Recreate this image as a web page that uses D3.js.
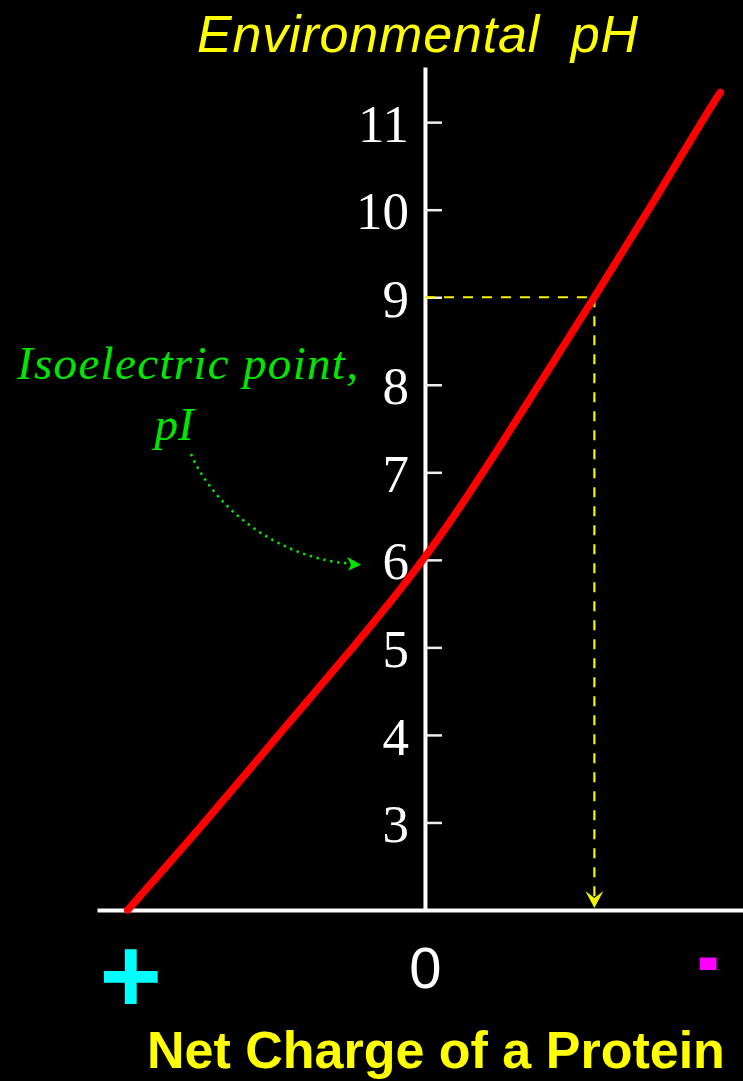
<!DOCTYPE html>
<html>
<head>
<meta charset="utf-8">
<script src="https://cdn.jsdelivr.net/npm/d3@7"></script>
<style>
  body { margin: 0; background: #000; }
  svg { display: block; }
</style>
</head>
<body>
<svg width="743" height="1081"></svg>
<script>
// Titration curve: pH against the net charge of a protein
var phValues     = [2, 3, 4, 5, 6, 7, 8, 9, 10, 11, 11.34];
var chargeValues = [3.0, 2.22, 1.48, 0.72, 0, -0.59, -1.15, -1.71, -2.26, -2.79, -2.98];
var phTicks      = [3, 4, 5, 6, 7, 8, 9, 10, 11];
var chargeTicks  = [0];
var isoelectricPH = 6;
var examplePH     = 9;

var svg = d3.select("svg");
var width = +svg.attr("width");
var height = +svg.attr("height");

svg.append("rect")
   .attr("width", width)
   .attr("height", height)
   .attr("fill", "#000");

// positive charge on the left, negative on the right
var x = d3.scaleLinear().domain([3.31, -3.21]).range([97, 743]);
var y = d3.scaleLinear().domain([2, 11.63]).range([910, 67]);

var points = phValues.map(function(p, i) { return {ph: p, charge: chargeValues[i]}; });

// vertical pH axis, ticks pointing right and labels on the left
var yAxis = svg.append("g")
    .attr("transform", "translate(" + x(0) + ",0)")
    .call(d3.axisLeft(y)
            .tickValues(phTicks)
            .tickSizeInner(-17)
            .tickSizeOuter(0)
            .tickPadding(16)
            .tickFormat(d3.format("d")));

yAxis.select(".domain").attr("stroke", "#fff").attr("stroke-width", 4);
yAxis.selectAll(".tick line").attr("stroke", "#eee").attr("stroke-width", 2.5);
yAxis.selectAll(".tick text")
     .attr("fill", "#fff")
     .attr("dy", "0.36em")
     .style("font-family", "'Liberation Serif', 'DejaVu Serif', serif")
     .style("font-size", "53px");

// horizontal charge axis
var xAxis = svg.append("g")
    .attr("transform", "translate(0," + y(2) + ")")
    .call(d3.axisBottom(x)
            .tickValues(chargeTicks)
            .tickSize(0)
            .tickPadding(37)
            .tickFormat(d3.format("d")));

xAxis.select(".domain").attr("stroke", "#fff").attr("stroke-width", 4);
xAxis.selectAll(".tick text")
     .attr("fill", "#fff")
     .style("font-family", "'Liberation Sans Narrow', 'Liberation Sans', Arial, sans-serif")
     .style("font-size", "58px");

// sign labels at both ends of the charge axis
svg.append("text")
   .attr("x", x(2.97))
   .attr("y", 1012)
   .attr("text-anchor", "middle")
   .attr("fill", "#00ffff")
   .style("font-family", "'Liberation Sans', Arial, sans-serif")
   .style("font-weight", "bold")
   .style("font-size", "107px")
   .text("+");

svg.append("g")
   .attr("transform", "translate(" + x(-2.86) + ",965) scale(1,1.58)")
   .append("text")
   .attr("y", 16.7)
   .attr("text-anchor", "middle")
   .attr("fill", "#ff00ff")
   .style("font-family", "'Liberation Sans', Arial, sans-serif")
   .style("font-weight", "bold")
   .style("font-size", "66px")
   .text("-");

// dashed read-off lines for pH 9
var chargeAt9 = chargeValues[phValues.indexOf(examplePH)];
var dashColor = "#f5f500";

svg.append("line")
   .attr("x1", x(0)).attr("y1", y(examplePH))
   .attr("x2", x(chargeAt9)).attr("y2", y(examplePH))
   .attr("stroke", dashColor)
   .attr("stroke-width", 2.2)
   .attr("stroke-dasharray", "10,9");

svg.append("line")
   .attr("x1", x(chargeAt9)).attr("y1", y(examplePH))
   .attr("x2", x(chargeAt9)).attr("y2", y(2) - 10)
   .attr("stroke", dashColor)
   .attr("stroke-width", 2.2)
   .attr("stroke-dasharray", "10,9");

var ax = x(chargeAt9), ay = y(2) - 2;
svg.append("path")
   .attr("d", "M" + (ax - 9) + "," + (ay - 17) +
              "L" + ax + "," + (ay - 10) +
              "L" + (ax + 9) + "," + (ay - 17) +
              "L" + ax + "," + ay + "Z")
   .attr("fill", dashColor);

// the titration curve
var line = d3.line()
    .x(function(d) { return x(d.charge); })
    .y(function(d) { return y(d.ph); })
    .curve(d3.curveBasis);

svg.append("path")
   .datum(points)
   .attr("d", line)
   .attr("fill", "none")
   .attr("stroke", "#ff0000")
   .attr("stroke-width", 7.5)
   .attr("stroke-linecap", "round");

// axis titles
svg.append("text")
   .attr("x", 197)
   .attr("y", 52)
   .attr("fill", "#ffff00")
   .attr("textLength", 441)
   .style("white-space", "pre")
   .style("font-family", "'Liberation Sans', Arial, sans-serif")
   .style("font-style", "italic")
   .style("font-size", "52px")
   .text("Environmental  pH");

svg.append("text")
   .attr("x", 147)
   .attr("y", 1068)
   .attr("fill", "#ffff00")
   .style("font-family", "'Liberation Sans', Arial, sans-serif")
   .style("font-weight", "bold")
   .style("font-size", "52px")
   .text("Net Charge of a Protein");

// isoelectric point annotation
var green = "#00e600";
var noteFont = "'Liberation Serif', 'DejaVu Serif', serif";

svg.append("text")
   .attr("x", 17)
   .attr("y", 379)
   .attr("fill", green)
   .attr("textLength", 341)
   .style("font-family", noteFont)
   .style("font-style", "italic")
   .style("font-size", "47px")
   .text("Isoelectric point,");

svg.append("text")
   .attr("x", 174)
   .attr("y", 440)
   .attr("text-anchor", "middle")
   .attr("fill", green)
   .style("font-family", noteFont)
   .style("font-style", "italic")
   .style("font-size", "47px")
   .text("pI");

var ty = y(isoelectricPH) + 5;
var tipX = 361;
var arrow = d3.path();
arrow.moveTo(191, 454);
arrow.bezierCurveTo(215, 510, 280, ty - 6, tipX - 9, ty - 1);

svg.append("path")
   .attr("d", arrow.toString())
   .attr("fill", "none")
   .attr("stroke", green)
   .attr("stroke-width", 2.5)
   .attr("stroke-dasharray", "2.5,4.5");

svg.append("path")
   .attr("d", "M" + tipX + "," + ty +
              "L" + (tipX - 14) + "," + (ty - 8) +
              "L" + (tipX - 10) + "," + ty +
              "L" + (tipX - 13) + "," + (ty + 6) + "Z")
   .attr("fill", green);
</script>
</body>
</html>
